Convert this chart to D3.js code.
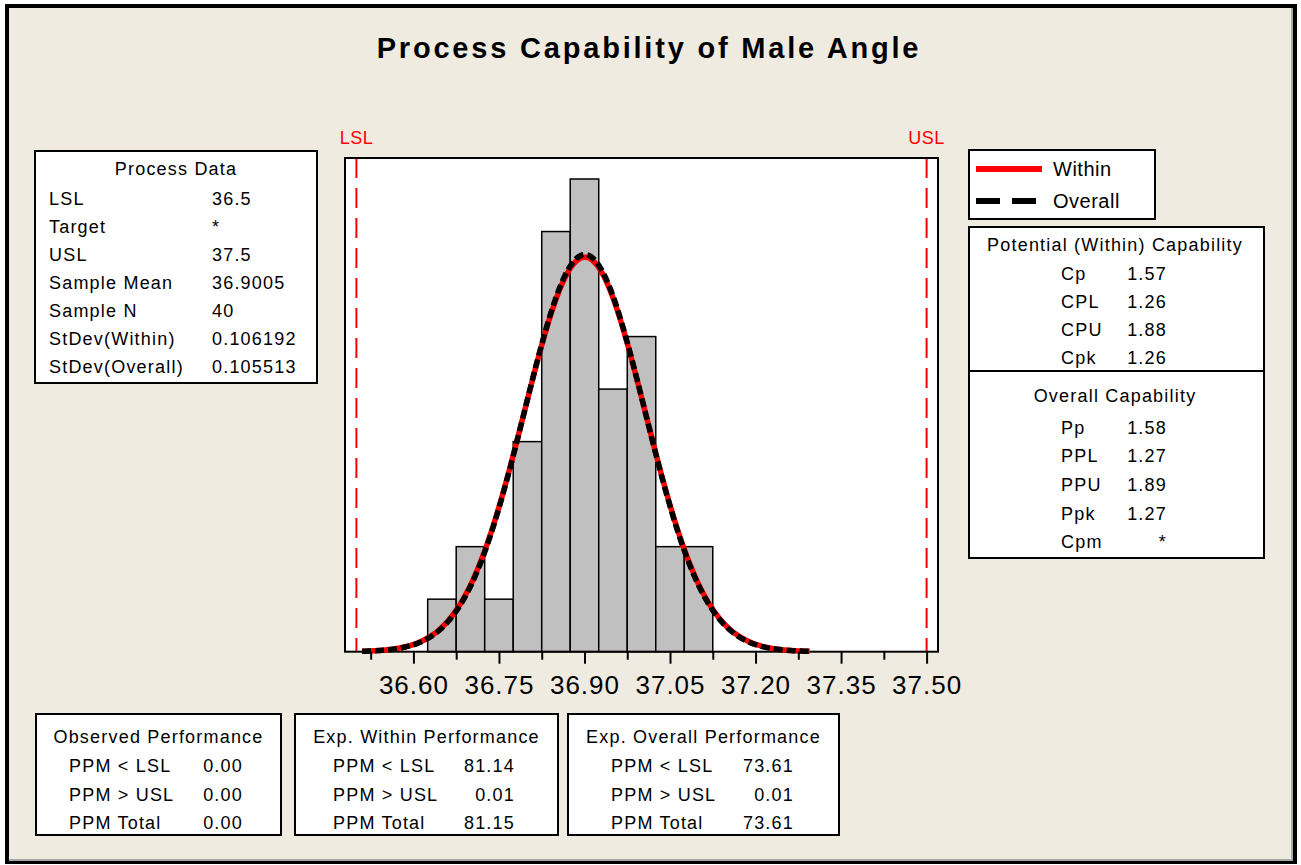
<!DOCTYPE html>
<html>
<head>
<meta charset="utf-8">
<script src="https://cdn.jsdelivr.net/npm/d3@7"></script>
<style>
  body { margin: 0; background: #fff; }
  text { font-family: "Liberation Sans", Arial, sans-serif; fill: #000; }
</style>
</head>
<body>
<div id="chart"></div>
<script>
/**
 * DATA
 * */
const lsl = 36.5, usl = 37.5;
const binStart = 36.625, binWidth = 0.05;
const binCounts = [1, 2, 1, 4, 8, 9, 5, 6, 2, 2];
const sampleMean = 36.9005, sampleN = 40;
const stdevWithin = 0.106192, stdevOverall = 0.105513;
const curveRange = [36.51, 37.295];
const majorTicks = [36.60, 36.75, 36.90, 37.05, 37.20, 37.35, 37.50];
const minorTicks = [36.525, 36.675, 36.825, 36.975, 37.125, 37.275, 37.425];

const processLabels = ["LSL", "Target", "USL", "Sample Mean", "Sample N", "StDev(Within)", "StDev(Overall)"];
const processValues = ["36.5", "*", "37.5", "36.9005", "40", "0.106192", "0.105513"];

const withinLabels = ["Cp", "CPL", "CPU", "Cpk"];
const withinValues = ["1.57", "1.26", "1.88", "1.26"];
const overallLabels = ["Pp", "PPL", "PPU", "Ppk", "Cpm"];
const overallValues = ["1.58", "1.27", "1.89", "1.27", "*"];

const perfLabels = ["PPM < LSL", "PPM > USL", "PPM Total"];
const observedValues = ["0.00", "0.00", "0.00"];
const expWithinValues = ["81.14", "0.01", "81.15"];
const expOverallValues = ["73.61", "0.01", "73.61"];

/**
 * SETUP
 * */
const width = 1301, height = 865;
const plot = { left: 345, right: 938, top: 158, bottom: 651.7 };

const svg = d3.select("#chart")
  .append("svg")
  .attr("width", width)
  .attr("height", height);

// outer frame
svg.append("rect").attr("x", 5).attr("y", 4).attr("width", 1292).attr("height", 860).attr("fill", "#000");
svg.append("rect").attr("x", 9).attr("y", 8).attr("width", 1284).attr("height", 853).attr("fill", "#a8a8a8");
svg.append("rect").attr("x", 9).attr("y", 8).attr("width", 1282).attr("height", 851).attr("fill", "#efebe1");

svg.append("text")
  .attr("x", 649).attr("y", 58)
  .attr("text-anchor", "middle")
  .attr("font-size", 29).attr("font-weight", "bold")
  .attr("letter-spacing", 2.8)
  .text("Process Capability of Male Angle");

const x = d3.scaleLinear().domain([36.48, 37.52]).range([plot.left, plot.right]);
const y = d3.scaleLinear().domain([0, 9.4]).range([plot.bottom, plot.top]);

// plot area
svg.append("rect")
  .attr("x", plot.left).attr("y", plot.top)
  .attr("width", plot.right - plot.left).attr("height", plot.bottom - plot.top)
  .attr("fill", "#fff");

const bins = binCounts.map((c, i) => ({ x0: binStart + i * binWidth, x1: binStart + (i + 1) * binWidth, count: c }));

svg.selectAll(".bar")
  .data(bins)
  .join("rect")
  .attr("class", "bar")
  .attr("x", d => x(d.x0))
  .attr("y", d => y(d.count))
  .attr("width", d => x(d.x1) - x(d.x0))
  .attr("height", d => y(0) - y(d.count))
  .attr("fill", "#c0c0c0")
  .attr("stroke", "#000")
  .attr("stroke-width", 1.5);

// spec limits
[["LSL", lsl], ["USL", usl]].forEach(([name, v]) => {
  svg.append("line")
    .attr("x1", x(v)).attr("x2", x(v))
    .attr("y1", plot.top).attr("y2", plot.bottom)
    .attr("stroke", "#ff0000").attr("stroke-width", 2)
    .attr("stroke-dasharray", "20,10");
  svg.append("text")
    .attr("x", x(v)).attr("y", 144)
    .attr("text-anchor", "middle")
    .attr("font-size", 18).attr("letter-spacing", 0.5)
    .style("fill", "#ff0000")
    .text(name);
});

svg.append("rect")
  .attr("x", plot.left).attr("y", plot.top)
  .attr("width", plot.right - plot.left).attr("height", plot.bottom - plot.top)
  .attr("fill", "none").attr("stroke", "#000").attr("stroke-width", 2);

// fitted normal curves (scaled to counts: N * bin width)
const normal = (v, m, s) => sampleN * binWidth * Math.exp(-0.5 * ((v - m) / s) ** 2) / (s * Math.sqrt(2 * Math.PI));
const xs = d3.range(curveRange[0], curveRange[1], 0.004).concat([curveRange[1]]);
const line = d3.line().x(d => x(d[0])).y(d => y(d[1])).curve(d3.curveBasis);

svg.append("path")
  .attr("d", line(xs.map(v => [v, normal(v, sampleMean, stdevWithin)])))
  .attr("fill", "none").attr("stroke", "#ff0000").attr("stroke-width", 5.5);
svg.append("path")
  .attr("d", line(xs.map(v => [v, normal(v, sampleMean, stdevOverall)])))
  .attr("fill", "none").attr("stroke", "#000").attr("stroke-width", 5.5)
  .attr("stroke-dasharray", "9,4");

// axis
const axisMajor = svg.append("g")
  .attr("transform", `translate(0,${plot.bottom})`)
  .call(d3.axisBottom(x).tickValues(majorTicks).tickSize(12).tickPadding(12).tickFormat(d3.format(".2f")));
axisMajor.select(".domain").remove();
axisMajor.selectAll(".tick line").attr("stroke", "#000").attr("stroke-width", 2);
axisMajor.selectAll(".tick text")
  .attr("font-family", "Liberation Sans, Arial, sans-serif")
  .attr("font-size", 26).attr("letter-spacing", 1);

const axisMinor = svg.append("g")
  .attr("transform", `translate(0,${plot.bottom})`)
  .call(d3.axisBottom(x).tickValues(minorTicks).tickSize(8).tickFormat(""));
axisMinor.select(".domain").remove();
axisMinor.selectAll(".tick line").attr("stroke", "#000").attr("stroke-width", 2);

/**
 * TEXT BOXES
 * */
function box(x0, y0, x1, y1) {
  svg.append("rect")
    .attr("x", x0).attr("y", y0)
    .attr("width", x1 - x0).attr("height", y1 - y0)
    .attr("fill", "#fff").attr("stroke", "#000").attr("stroke-width", 2);
}
function label(t, px, py, anchor) {
  svg.append("text")
    .attr("x", px).attr("y", py + 6.5)
    .attr("text-anchor", anchor || "start")
    .attr("font-size", 18).attr("letter-spacing", 1.2)
    .text(t);
}

// process data
box(35, 151, 317, 383);
label("Process Data", 176, 168, "middle");
processLabels.forEach((d, i) => {
  label(d, 49, 198 + i * 28.1);
  label(processValues[i], 212, 198 + i * 28.1);
});

// legend
box(969, 150, 1155, 219);
svg.append("line").attr("x1", 976).attr("x2", 1042).attr("y1", 169).attr("y2", 169)
  .attr("stroke", "#ff0000").attr("stroke-width", 6);
svg.append("line").attr("x1", 976).attr("x2", 1036).attr("y1", 201).attr("y2", 201)
  .attr("stroke", "#000").attr("stroke-width", 6).attr("stroke-dasharray", "24,12");
svg.append("text").attr("x", 1053).attr("y", 176).attr("font-size", 20).attr("letter-spacing", 0.5).text("Within");
svg.append("text").attr("x", 1053).attr("y", 208).attr("font-size", 20).attr("letter-spacing", 0.5).text("Overall");

// capability
box(969, 227, 1264, 558);
svg.append("line").attr("x1", 969).attr("x2", 1264).attr("y1", 371).attr("y2", 371)
  .attr("stroke", "#000").attr("stroke-width", 2);
label("Potential (Within) Capability", 1115, 244, "middle");
withinLabels.forEach((d, i) => {
  label(d, 1061, 273 + i * 28.3);
  label(withinValues[i], 1167, 273 + i * 28.3, "end");
});
label("Overall Capability", 1115, 395, "middle");
overallLabels.forEach((d, i) => {
  label(d, 1061, 427 + i * 28.7);
  label(overallValues[i], 1167, 427 + i * 28.7, "end");
});

// performance tables
const perfBoxes = [
  { title: "Observed Performance", values: observedValues, x0: 36, x1: 281, lx: 69, vx: 243 },
  { title: "Exp. Within Performance", values: expWithinValues, x0: 295, x1: 558, lx: 333, vx: 515 },
  { title: "Exp. Overall Performance", values: expOverallValues, x0: 568, x1: 839, lx: 611, vx: 794 }
];
const perfRowsY = [765, 794, 822];
perfBoxes.forEach(b => {
  box(b.x0, 714, b.x1, 835);
  label(b.title, (b.x0 + b.x1) / 2, 736, "middle");
  perfLabels.forEach((d, i) => {
    label(d, b.lx, perfRowsY[i]);
    label(b.values[i], b.vx, perfRowsY[i], "end");
  });
});
</script>
</body>
</html>
